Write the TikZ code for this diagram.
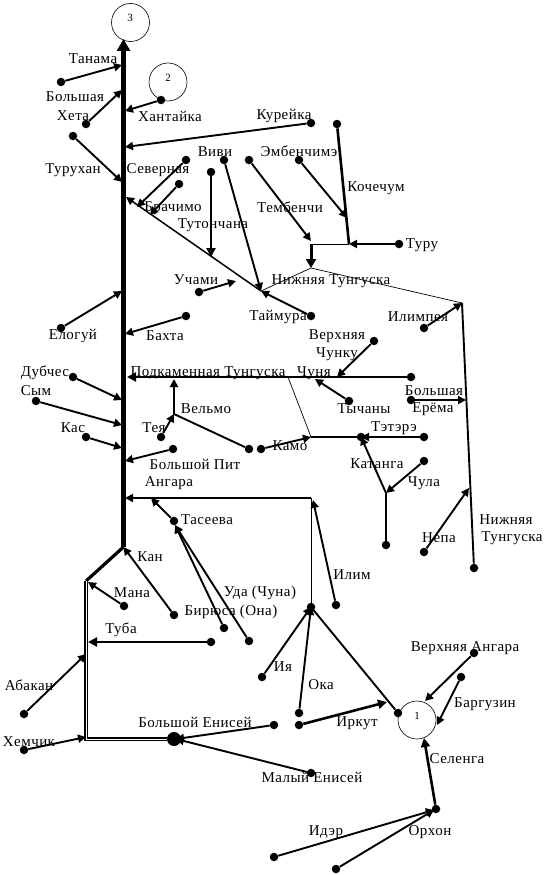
\documentclass[tikz,border=0pt]{standalone}
\usepackage{fontspec}
\setmainfont[LetterSpace=3]{Liberation Serif}
\usetikzlibrary{arrows.meta}
\tikzset{
  dot/.style={circle,fill=black,inner sep=0pt,minimum size=8.5pt},
  bigdot/.style={circle,fill=black,inner sep=0pt,minimum size=14pt},
  lab/.style={inner sep=0pt,yshift=-1pt,font=\fontsize{15pt}{16pt}\selectfont},
  ring/.style={circle,draw=black,line width=0.6pt,minimum size=38pt,inner sep=0pt,text depth=0pt},
  num/.style={inner sep=0pt,font=\fontsize{11pt}{12pt}\selectfont},
  riv/.style={line width=1.9pt,-{Triangle[length=8pt,width=8pt]}},
  rivb/.style={line width=2.6pt,-{Triangle[length=9pt,width=9pt]}},
  plain/.style={line width=1.9pt},
  fine/.style={line width=0.7pt}
}
\begin{document}
\begin{tikzpicture}[x=1pt,y=-1pt]
\useasboundingbox[fill=white] (0,0) rectangle (554,875);
% rings
\node[ring] (r3) at (130.5,22.5) {};
\node[ring] (r2) at (168,82) {};
\node[ring] (r1) at (417,720) {};
\node[num] (n3) at (130,18) {3};
\node[num] (n2) at (168,78) {2};
\node[num] (n1) at (417,716) {1};
% junction coordinates
\coordinate (top) at (123.5,39);
\coordinate (base) at (123.5,547);
\coordinate (jTanama) at (122,65);
\coordinate (jHeta) at (122,90);
\coordinate (jTuruhan) at (122,182);
\coordinate (jHant) at (125,111);
\coordinate (jKur) at (125,147);
\coordinate (jNT) at (126,197);
\coordinate (jSev) at (137,207);
\coordinate (jBrach) at (150,215);
\coordinate (jTut) at (211,257);
\coordinate (jNTmid) at (261,291);
\coordinate (jUch) at (236,281);
\coordinate (jTem) at (311,241);
\coordinate (jEmb) at (347,218);
\coordinate (jTem2) at (311,244);
\coordinate (jKoch) at (349,244);
\coordinate (jFork) at (311,268);
\coordinate (jIlimp) at (462,303);
\coordinate (jNepa) at (469,488);
\coordinate (jErema) at (466,400);
\coordinate (jVChunku) at (337,377);
\coordinate (jTych) at (315,379);
\coordinate (jPT) at (127,377);
\coordinate (jThin) at (288,377);
\coordinate (jKamo) at (311,437);
\coordinate (jTeter) at (361,437);
\coordinate (jKat) at (386,493);
\coordinate (jVel) at (174,414);
\coordinate (jVelUp) at (174,379);
\coordinate (jPit) at (125,461);
\coordinate (jElog) at (122,291);
\coordinate (jBah) at (125,334);
\coordinate (jDub) at (122,400);
\coordinate (jSym) at (122,425);
\coordinate (jKas) at (122,448);
\coordinate (jAng) at (125,498);
\coordinate (jAngR) at (311,498);
\coordinate (jIlim) at (313,500);
\coordinate (jOka) at (311,607);
\coordinate (jTas) at (151,498);
\coordinate (jTasR) at (175,525);
\coordinate (jBend) at (86,581);
\coordinate (jMana) at (88,582);
\coordinate (jTuba) at (88,642);
\coordinate (jAbak) at (86,654);
\coordinate (jCorner) at (86,739);
\coordinate (jHem) at (86,737);
\coordinate (jBE) at (176,739);
\coordinate (jIrk) at (387,702);
\coordinate (jVA) at (425,701);
\coordinate (jBar) at (437,725);
\coordinate (jSel) at (424,738);
\coordinate (jId) at (434,810);
% dots
\node[dot] (dTanama) at (61,82) {};
\node[dot] (dHeta) at (86,124) {};
\node[dot] (dTuruhan) at (73,136) {};
\node[dot] (dHant) at (161,100) {};
\node[dot] (dKur) at (311,123) {};
\node[dot] (dKoch) at (337,124) {};
\node[dot] (dSev) at (186,160) {};
\node[dot] (dBrach) at (179,184) {};
\node[dot] (dTut) at (211,172) {};
\node[dot] (dViv) at (224,160) {};
\node[dot] (dTem) at (249,160) {};
\node[dot] (dEmb) at (299,160) {};
\node[dot] (dTuru) at (399,244) {};
\node[dot] (dUch) at (199,292) {};
\node[dot] (dTaim) at (311,316) {};
\node[dot] (dIlimp) at (424,328) {};
\node[dot] (dVChunku) at (374,341) {};
\node[dot] (dChun) at (411,377) {};
\node[dot] (dTych) at (349,401) {};
\node[dot] (dErema) at (411,400) {};
\node[dot] (dElog) at (61,328) {};
\node[dot] (dBah) at (186,316) {};
\node[dot] (dDub) at (73,377) {};
\node[dot] (dSym) at (36,401) {};
\node[dot] (dKas) at (86,437) {};
\node[dot] (dTeya) at (161,437) {};
\node[dot] (dVel) at (249,449) {};
\node[dot] (dKamo) at (261,449) {};
\node[dot] (dPit) at (173,449) {};
\node[dot] (dTeter) at (424,437) {};
\node[dot] (dTjunc) at (361,437) {};
\node[dot] (dChul) at (424,461) {};
\node[dot] (dKat) at (386,545) {};
\node[dot] (dNepa) at (424,552) {};
\node[dot] (dNT) at (474,568) {};
\node[dot] (dTas) at (174,521) {};
\node[dot] (dKan) at (174,615) {};
\node[dot] (dBir) at (224,628) {};
\node[dot] (dUda) at (249,641) {};
\node[dot] (dIlim) at (336,605) {};
\node[dot] (dMana) at (124,606) {};
\node[dot] (dTuba) at (211,642) {};
\node[dot] (dAbak) at (24,714) {};
\node[dot] (dHem) at (24,750) {};
\node[dot] (dIya) at (262,677) {};
\node[dot] (dOka) at (299,713) {};
\node[dot] (dIrk) at (299,725) {};
\node[dot] (dBE) at (274,725) {};
\node[dot] (dME) at (311,773) {};
\node[dot] (dAngRing) at (398,713) {};
\node[dot] (dVA) at (474,653) {};
\node[dot] (dBar) at (461,677) {};
\node[dot] (dOrh) at (436,809) {};
\node[dot] (dId) at (274,857) {};
\node[dot] (dOrh2) at (336,869) {};
\node[bigdot] (dBig) at (174,739) {};
\node[dot] (dOkaTop) at (311,607) {};
% main stem
\draw[line width=5pt,-{Triangle[length=12pt,width=13pt]}] (base) -- (top);
\draw[line width=3.2pt] (base) -- (jBend);
\draw[double,line width=1.7pt,double distance=1pt] (jBend) -- (jCorner) -- (dBig);
% tributaries
\draw[riv] (dTanama) -- (jTanama);
\draw[riv] (dHeta) -- (jHeta);
\draw[riv] (dTuruhan) -- (jTuruhan);
\draw[riv] (dHant) -- (jHant);
\draw[riv] (dKur) -- (jKur);
\draw[riv] (dSev) -- (jSev);
\draw[riv] (dBrach) -- (jBrach);
\draw[riv,line width=1.5pt] (jNTmid) -- (jNT);
\draw[rivb] (dTut) -- (jTut);
\draw[riv] (dViv) -- (jNTmid);
\draw[riv] (dTem) -- (jTem);
\draw[riv] (dEmb) -- (jEmb);
\draw[line width=2.6pt] (dKoch) -- (jKoch);
\draw[fine] (jTem2) -- (jKoch);
\draw[riv] (dTuru) -- (jKoch);
\draw[line width=3pt,-{Triangle[length=9pt,width=10pt]}] (jTem2) -- (jFork);
\draw[fine] (jNTmid) -- (jFork) -- (jIlimp);
\draw[riv] (dUch) -- (jUch);
\draw[riv] (dTaim) -- (jNTmid);
\draw[riv] (dIlimp) -- (jIlimp);
\draw[plain] (jIlimp) -- (dNT);
\draw[riv] (dNepa) -- (jNepa);
\draw[riv] (dErema) -- (jErema);
\draw[riv] (dVChunku) -- (jVChunku);
\draw[rivb] (dChun) -- (jPT);
\draw[riv] (dTych) -- (jTych);
\draw[fine] (jThin) -- (jKamo);
\draw[riv] (dKamo) -- (jKamo);
\draw[line width=2.6pt] (jKamo) -- (jTeter);
\draw[riv] (dTeter) -- (jTeter);
\draw[riv] (jKat) -- (jTeter);
\draw[plain] (dKat) -- (jKat);
\draw[riv] (dChul) -- (jKat);
\draw[plain] (dVel) -- (jVel);
\draw[riv] (dTeya) -- (jVel);
\draw[riv] (jVel) -- (jVelUp);
\draw[riv] (dPit) -- (jPit);
\draw[riv] (dElog) -- (jElog);
\draw[riv] (dBah) -- (jBah);
\draw[riv] (dDub) -- (jDub);
\draw[riv] (dSym) -- (jSym);
\draw[riv] (dKas) -- (jKas);
\draw[riv] (jAngR) -- (jAng);
\draw[fine] (jAngR) -- (jOka);
\draw[riv] (dIlim) -- (jIlim);
\draw[riv] (dTas) -- (jTas);
\draw[riv] (dBir) -- (jTasR);
\draw[riv] (dUda) -- (jTasR);
\draw[riv] (dKan) -- (base);
\draw[riv] (dMana) -- (jMana);
\draw[rivb] (dTuba) -- (jTuba);
\draw[riv] (dAbak) -- (jAbak);
\draw[riv] (dHem) -- (jHem);
\draw[riv] (dBE) -- (jBE);
\draw[riv] (dME) -- (jBE);
\draw[riv] (dIya) -- (jOka);
\draw[riv] (dOka) -- (jOka);
\draw[plain] (dAngRing) -- (jOka);
\draw[rivb] (dIrk) -- (jIrk);
\draw[riv] (dVA) -- (jVA);
\draw[riv] (dBar) -- (jBar);
\draw[rivb] (dOrh) -- (jSel);
\draw[riv] (dId) -- (jId);
\draw[riv] (dOrh2) -- (jId);
% labels
\node[lab] (l1) at (93,58) {Танама};
\node[lab] (l2) at (75,96) {Большая};
\node[lab] (l3) at (73,115) {Хета};
\node[lab] (l4) at (73,169) {Турухан};
\node[lab] (l5) at (170,115) {Хантайка};
\node[lab] (l6) at (284,115) {Курейка};
\node[lab] (l7) at (158,169) {Северная};
\node[lab] (l8) at (215,151) {Виви};
\node[lab] (l9) at (299,150) {Эмбенчимэ};
\node[lab] (l10) at (173,207) {Брачимо};
\node[lab] (l11) at (213,224) {Тутончана};
\node[lab] (l12) at (290,206) {Тембенчи};
\node[lab] (l13) at (376,187) {Кочечум};
\node[lab] (l14) at (422,244) {Туру};
\node[lab] (l15) at (196,279) {Учами};
\node[lab] (l16) at (331,280) {Нижняя Тунгуска};
\node[lab] (l17) at (278,316) {Таймура};
\node[lab] (l18) at (418,316) {Илимпея};
\node[lab] (l19) at (337,335) {Верхняя};
\node[lab] (l20) at (337,353) {Чунку};
\node[lab] (l21) at (314,372) {Чуня};
\node[lab] (l22) at (208,372) {Подкаменная Тунгуска};
\node[lab] (l23) at (364,408) {Тычаны};
\node[lab] (l24) at (434,390) {Большая};
\node[lab] (l25) at (433,408) {Ерёма};
\node[lab] (l26) at (73,335) {Елогуй};
\node[lab] (l27) at (165,335) {Бахта};
\node[lab] (l28) at (45,372) {Дубчес};
\node[lab] (l29) at (36,390) {Сым};
\node[lab] (l30) at (73,427) {Кас};
\node[lab] (l31) at (154,427) {Тея};
\node[lab] (l32) at (206,408) {Вельмо};
\node[lab] (l33) at (290,445) {Камо};
\node[lab] (l34) at (394,427) {Тэтэрэ};
\node[lab] (l35) at (377,463) {Катанга};
\node[lab] (l36) at (424,482) {Чула};
\node[lab] (l37) at (195,463) {Большой Пит};
\node[lab] (l38) at (169,482) {Ангара};
\node[lab] (l39) at (207,519) {Тасеева};
\node[lab] (l40) at (439,537) {Непа};
\node[lab] (l41) at (506,519) {Нижняя};
\node[lab] (l42) at (512,537) {Тунгуска};
\node[lab] (l43) at (150,556) {Кан};
\node[lab] (l44) at (352,574) {Илим};
\node[lab] (l45) at (132,592) {Мана};
\node[lab] (l46) at (260,592) {Уда (Чуна)};
\node[lab] (l47) at (231,611) {Бирюса (Она)};
\node[lab] (l48) at (121,629) {Туба};
\node[lab] (l49) at (29,684) {Абакан};
\node[lab] (l50) at (29,741) {Хемчик};
\node[lab] (l51) at (195,721) {Большой Енисей};
\node[lab] (l52) at (312,776) {Малый Енисей};
\node[lab] (l53) at (283,666) {Ия};
\node[lab] (l54) at (321,684) {Ока};
\node[lab] (l55) at (357,722) {Иркут};
\node[lab] (l56) at (465,647) {Верхняя Ангара};
\node[lab] (l57) at (485,703) {Баргузин};
\node[lab] (l58) at (457,758) {Селенга};
\node[lab] (l59) at (326,831) {Идэр};
\node[lab] (l60) at (430,831) {Орхон};
\end{tikzpicture}
\end{document}
